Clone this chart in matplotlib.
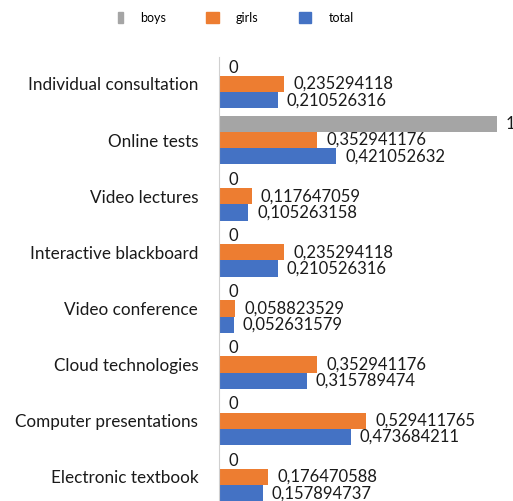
import matplotlib.pyplot as plt
import matplotlib.patches as mpatches
from matplotlib.legend_handler import HandlerPatch
import numpy as np

plt.rcParams['font.family'] = ['Lato', 'DejaVu Sans']

# categories top to bottom
categories = ['Individual consultation', 'Online tests', 'Video lectures',
              'Interactive blackboard', 'Video conference', 'Cloud technologies',
              'Computer presentations', 'Electronic textbook']
boys = [0, 1, 0, 0, 0, 0, 0, 0]
girls = [0.235294118, 0.352941176, 0.117647059, 0.235294118,
         0.058823529, 0.352941176, 0.529411765, 0.176470588]
total = [0.210526316, 0.421052632, 0.105263158, 0.210526316,
         0.052631579, 0.315789474, 0.473684211, 0.157894737]

series = [('boys', boys, '#A5A5A5'), ('girls', girls, '#ED7D31'), ('total', total, '#4472C4')]


def fmt(v):
    s = '{:.9f}'.format(v).rstrip('0').rstrip('.')
    return s.replace('.', ',')


def narrow_patch(legend, orig_handle, xdescent, ydescent, width, height, fontsize):
    # the grey legend key is drawn as a thin bar in the original
    return mpatches.Rectangle((-xdescent + width * 0.62, -ydescent), width * 0.38, height)


W, H = 513, 501
fig = plt.figure(figsize=(W / 100, H / 100), dpi=100)
ax = fig.add_axes([219 / W, 0, (W - 219) / W, 444 / H])

y = np.arange(len(categories))
h = 0.29
handles = []
for k, (name, vals, col) in enumerate(series):
    pos = y + (k - 1) * h
    bars = ax.barh(pos, vals, height=h, color=col, label=name)
    handles.append(mpatches.Patch(color=col, label=name))
    for p, v in zip(pos, vals):
        ax.annotate(fmt(v), (v, p), xytext=(6.5, 0), textcoords='offset points',
                    va='center', ha='left', fontsize=12, color='#1a1a1a',
                    annotation_clip=False)

ax.set_xlim(0, (W - 219) / 278)
ax.set_ylim(7.43, -0.48)
ax.set_yticks(y)
ax.set_yticklabels(categories, fontsize=12.3, color='#1a1a1a')
ax.tick_params(axis='y', length=0, pad=15)
ax.set_xticks([])
for s in ['top', 'right', 'bottom']:
    ax.spines[s].set_visible(False)
ax.spines['left'].set_color('#d0d0d0')

fig.legend(handles=handles, loc='center', bbox_to_anchor=(232 / W, 1 - 18 / H), ncol=3,
           frameon=False, fontsize=9, handlelength=1.0, handleheight=1.0,
           handletextpad=1.4, columnspacing=3.2,
           handler_map={handles[0]: HandlerPatch(patch_func=narrow_patch)})

fig.savefig('out.png', dpi=100)
